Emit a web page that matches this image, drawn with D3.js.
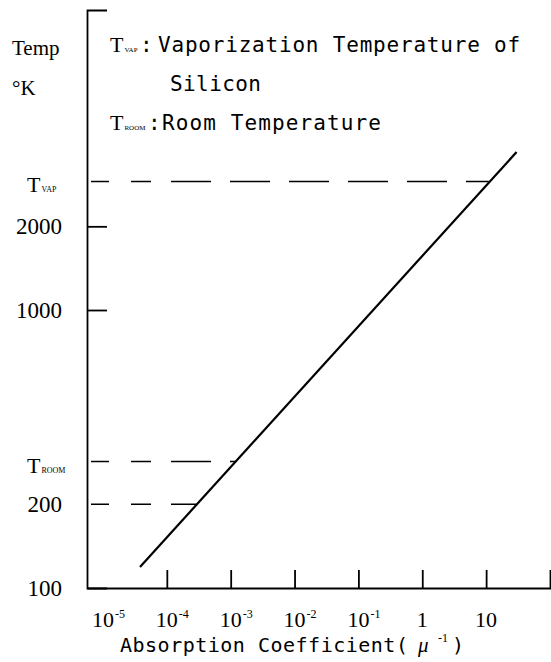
<!DOCTYPE html>
<html>
<head>
<meta charset="utf-8">
<script src="https://cdn.jsdelivr.net/npm/d3@7"></script>
<style>
  body { margin: 0; background: #fff; }
</style>
</head>
<body>
<script>
// values
var xTickVals = [1e-4, 1e-3, 1e-2, 1e-1, 1, 10, 100];
var xLabelVals = [1e-5, 1e-4, 1e-3, 1e-2, 1e-1, 1, 10];
var xLabelBase = ["10", "10", "10", "10", "10", "1", "10"];
var xLabelExp = ["-5", "-4", "-3", "-2", "-1", "", ""];

var yTickVals = [1000, 2000];
var yLabelVals = [100, 1000, 2000];
var yLabelText = ["100", "1000", "2000"];

// the straight line (log-log)
var curveAlpha = [3.8e-5, 30];
var curveTemp = [119, 3700];

// dashed reference levels
var refTemp = [2900, 285, 200];
var refAlphaEnd = [11, 1.2e-3, 2.9e-4];
var refMain = ["T", "T", "200"];
var refSub = ["VAP", "ROOM", ""];

var W = 551, H = 662;
var serif = "Liberation Serif, Times New Roman, serif";
var mono = "DejaVu Sans Mono, monospace";

var svg = d3.select("body").append("svg")
    .attr("width", W).attr("height", H);

var x = d3.scaleLog()
    .domain([Math.pow(10, -5.25), Math.pow(10, 2.016)])
    .range([87, 551]);

var y = d3.scaleLog()
    .domain([100, 12000])
    .range([588, 10]);

var x0 = x.range()[0];

// axes
svg.append("g")
    .attr("transform", "translate(0," + y(100) + ")")
    .call(d3.axisBottom(x).tickValues(xTickVals).tickFormat("")
      .tickSizeInner(-18).tickSizeOuter(0));

svg.append("g")
    .attr("transform", "translate(" + x0 + ",0)")
    .call(d3.axisLeft(y).tickValues(yTickVals).tickFormat("")
      .tickSizeInner(-20).tickSizeOuter(-20));

svg.selectAll(".domain, .tick line")
    .attr("stroke", "#000")
    .attr("stroke-width", 1.8);

// dashed levels
svg.selectAll("line.ref")
  .data(refTemp)
  .enter().append("line")
    .attr("class", "ref")
    .attr("x1", x0 + 4)
    .attr("x2", function(d, i) { return x(refAlphaEnd[i]); })
    .attr("y1", function(d) { return y(d); })
    .attr("y2", function(d) { return y(d); })
    .attr("stroke", "#000")
    .attr("stroke-width", 1.6)
    .attr("stroke-dasharray", "18,22,20,20,40,19,40,19,40,19,40,19,40,19,40,19,40,19");

// main line
var line = d3.line()
    .x(function(d) { return x(d[0]); })
    .y(function(d) { return y(d[1]); });

svg.append("path")
    .datum(d3.zip(curveAlpha, curveTemp))
    .attr("d", line)
    .attr("fill", "none")
    .attr("stroke", "#000")
    .attr("stroke-width", 2.2);

// y labels
svg.selectAll("text.ylab")
  .data(yLabelVals)
  .enter().append("text")
    .attr("class", "ylab")
    .attr("x", 62)
    .attr("y", function(d) { return y(d); })
    .attr("dy", "0.35em")
    .attr("text-anchor", "end")
    .style("font-family", serif)
    .style("font-size", "23px")
    .text(function(d, i) { return yLabelText[i]; });

var refLab = svg.selectAll("text.reflab")
  .data(refTemp)
  .enter().append("text")
    .attr("class", "reflab")
    .attr("x", function(d, i) { return refSub[i] ? 27 : 62; })
    .attr("y", function(d, i) { return y(d) + (refSub[i] ? 11 : 8); })
    .attr("text-anchor", function(d, i) { return refSub[i] ? "start" : "end"; })
    .style("font-family", serif);

refLab.append("tspan")
    .style("font-size", function(d, i) { return refSub[i] ? "22px" : "23px"; })
    .text(function(d, i) { return refMain[i]; });
refLab.append("tspan")
    .style("font-size", "8px")
    .attr("dx", 1)
    .text(function(d, i) { return refSub[i]; });

svg.append("text")
    .attr("x", 12).attr("y", 55)
    .style("font-family", serif).style("font-size", "21px")
    .text("Temp");
svg.append("text")
    .attr("x", 12).attr("y", 95)
    .style("font-family", serif).style("font-size", "21px")
    .text("°K");

// legend
function legendT(yy, sub, colonX) {
  var t = svg.append("text")
      .attr("x", 110).attr("y", yy)
      .style("font-family", serif);
  t.append("tspan").style("font-size", "22px").text("T");
  t.append("tspan").style("font-size", "7px").attr("dx", 1).text(sub);
  svg.append("text")
      .attr("x", colonX).attr("y", yy)
      .style("font-family", mono).style("font-size", "21px")
      .text(":");
}

legendT(52, "VAP", 140);
legendT(130, "ROOM", 148);

svg.append("text")
    .attr("x", 158).attr("y", 52)
    .style("font-family", mono).style("font-size", "21px")
    .style("letter-spacing", "0.8px")
    .text("Vaporization Temperature of");
svg.append("text")
    .attr("x", 170).attr("y", 91)
    .style("font-family", mono).style("font-size", "21px")
    .style("letter-spacing", "0.4px")
    .text("Silicon");
svg.append("text")
    .attr("x", 162).attr("y", 130)
    .style("font-family", mono).style("font-size", "21px")
    .style("letter-spacing", "1.1px")
    .text("Room Temperature");

// x tick labels
var xl = svg.selectAll("g.xlab")
  .data(xLabelVals)
  .enter().append("g")
    .attr("class", "xlab")
    .attr("transform", function(d) { return "translate(" + x(d) + ",627)"; });

xl.append("text")
    .attr("text-anchor", "middle")
    .style("font-family", serif)
    .style("font-size", "22px")
    .text(function(d, i) { return xLabelBase[i]; });

xl.append("text")
    .attr("x", 12)
    .attr("y", -9)
    .style("font-family", serif)
    .style("font-size", "12px")
    .text(function(d, i) { return xLabelExp[i]; });

// x axis title
svg.append("text")
    .attr("x", 120).attr("y", 652)
    .style("font-family", mono).style("font-size", "20px")
    .style("letter-spacing", "0.5px")
    .text("Absorption Coefficient(");
svg.append("text")
    .attr("x", 418).attr("y", 652)
    .style("font-family", serif).style("font-size", "21px")
    .style("font-style", "italic")
    .text("μ");
svg.append("text")
    .attr("x", 438).attr("y", 642)
    .style("font-family", serif).style("font-size", "12px")
    .text("-1");
svg.append("text")
    .attr("x", 452).attr("y", 652)
    .style("font-family", mono).style("font-size", "20px")
    .text(")");
</script>
</body>
</html>
